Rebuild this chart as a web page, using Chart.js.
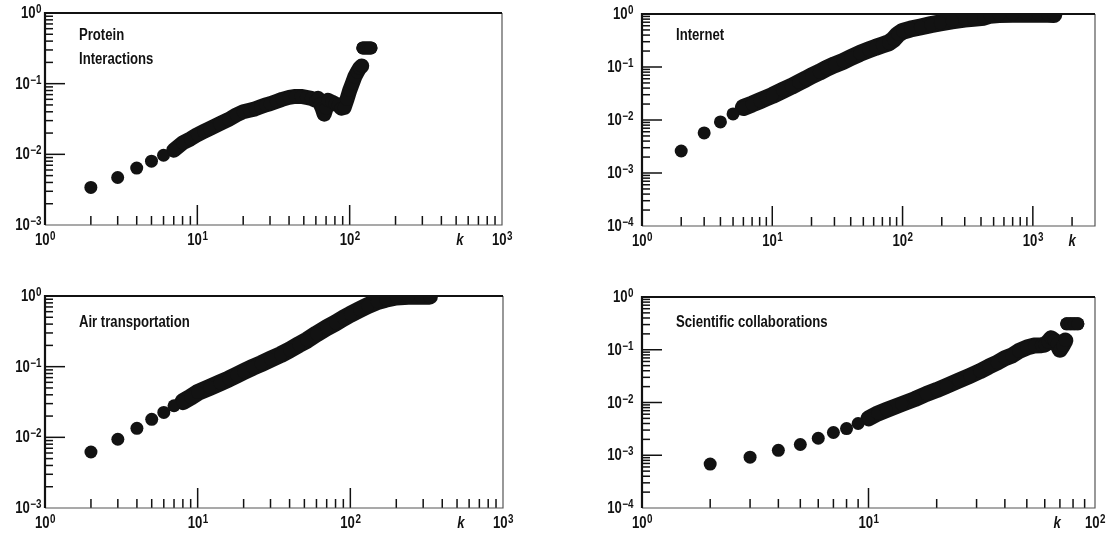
<!DOCTYPE html>
<html>
<head>
<meta charset="utf-8">
<script src="https://cdn.jsdelivr.net/npm/chart.js@4.4.1/dist/chart.umd.min.js"></script>
<style>
  body { margin: 0; background: #fff; }
  #wrap { position: relative; width: 1110px; height: 535px; }
  canvas { position: absolute; }
</style>
</head>
<body>
<div id="wrap">
  <canvas id="protein" width="555" height="268" style="left:0;top:0"></canvas>
  <canvas id="internet" width="555" height="268" style="left:555px;top:0"></canvas>
  <canvas id="air" width="555" height="267" style="left:0;top:268px"></canvas>
  <canvas id="sci" width="555" height="267" style="left:555px;top:268px"></canvas>
</div>
<script>
// degree k against measured value, one pair of arrays per network (sorted by k)
const proteinK = [2, 3, 4, 5, 6, 7, 8, 9, 10, 11, 12, 14, 16, 18, 20, 22, 24, 26, 28, 30, 33, 36, 40, 44, 48, 52, 56,
  60, 62, 64, 66, 68, 70, 72, 76, 80, 84, 88, 92, 96, 100, 104, 108, 112, 116, 120];
const proteinC = [0.0034, 0.0047, 0.0064, 0.008, 0.0097, 0.0114, 0.0145, 0.0165, 0.019, 0.021, 0.023, 0.027, 0.031,
  0.036, 0.040, 0.042, 0.044, 0.047, 0.050, 0.052, 0.056, 0.060, 0.064, 0.066, 0.066, 0.064, 0.062,
  0.058, 0.062, 0.052, 0.045, 0.037, 0.045, 0.058, 0.055, 0.052, 0.050, 0.045, 0.046, 0.060, 0.080, 0.10, 0.125,
  0.145, 0.165, 0.178];
// saturated points at the high-k end
const proteinTopK = [122, 126, 130, 134, 138];
const proteinTopC = [0.32, 0.32, 0.32, 0.32, 0.32];

const internetK = [2, 3, 4, 5, 6, 7, 8, 9, 10, 12, 14, 16, 18, 20, 23, 26, 30, 35, 40, 47, 55, 62, 70, 78, 85, 92, 100,
  115, 137, 165, 195, 240, 300, 350, 420, 470, 550, 700, 900, 1100, 1300, 1450];
const internetC = [0.0026, 0.0057, 0.0092, 0.013, 0.0172, 0.020, 0.023, 0.026, 0.029, 0.036, 0.043, 0.051, 0.059,
  0.068, 0.080, 0.094, 0.11, 0.128, 0.15, 0.18, 0.21, 0.235, 0.26, 0.285, 0.33, 0.41, 0.47,
  0.52, 0.57, 0.63, 0.68, 0.74, 0.80, 0.83, 0.87, 0.95, 0.98, 0.99, 0.99, 0.99, 0.99, 0.98];

const airK = [2, 3, 4, 5, 6, 7, 8, 9, 10, 12, 14, 16, 18, 20, 23, 26, 30, 35, 40, 46, 52, 60, 70, 80, 90, 100, 115,
  130, 150, 170, 200, 240, 290, 330];
const airC = [0.0062, 0.0094, 0.0134, 0.018, 0.0225, 0.028, 0.032, 0.037, 0.043, 0.051, 0.059, 0.067, 0.076, 0.085,
  0.098, 0.11, 0.127, 0.148, 0.172, 0.205, 0.237, 0.29, 0.355, 0.415, 0.485, 0.55, 0.64,
  0.73, 0.83, 0.90, 0.97, 0.99, 0.99, 0.99];

const sciK = [2, 3, 4, 5, 6, 7, 8, 9, 10, 11, 12, 14, 16, 18, 20, 22, 25, 28, 31, 34, 37, 40, 43, 46, 50, 54, 58, 60,
  62, 64, 66, 68, 70, 72, 74];
const sciC = [0.00068, 0.00092, 0.00124, 0.0016, 0.0021, 0.0027, 0.0032, 0.004, 0.005, 0.0062, 0.0072, 0.0093, 0.0116,
  0.0145, 0.0172, 0.0205, 0.026, 0.032, 0.039, 0.048, 0.057, 0.069, 0.078, 0.094, 0.11, 0.12, 0.122, 0.125,
  0.14, 0.165, 0.15, 0.13, 0.10, 0.12, 0.15];
const sciTopK = [75, 78, 81, 84];
const sciTopC = [0.31, 0.31, 0.31, 0.31];

const MINOR = [2, 3, 4, 5, 6, 7, 8, 9];
const FONT = "'Liberation Sans', Arial, sans-serif";
const SX = 0.82; // narrow the bold face
const INK = '#121212';

function text(ctx, str, x, y, align) {
  const w = ctx.measureText(str).width * SX;
  const x0 = align === 'right' ? x - w : align === 'center' ? x - w / 2 : x;
  ctx.save();
  ctx.translate(x0, y);
  ctx.scale(SX, 1);
  ctx.textAlign = 'left';
  ctx.fillText(str, 0, 0);
  ctx.restore();
  return w;
}

// "10" with a raised exponent
function powLabel(ctx, exp, x, y, align) {
  const sup = exp < 0 ? '\u2212' + (-exp) : String(exp);
  ctx.font = 'bold 16px ' + FONT;
  const wb = ctx.measureText('10').width * SX;
  ctx.font = 'bold 12px ' + FONT;
  const ws = ctx.measureText(sup).width * SX;
  const x0 = align === 'right' ? x - wb - ws : x - (wb + ws) / 2;
  ctx.textBaseline = 'alphabetic';
  ctx.font = 'bold 16px ' + FONT;
  text(ctx, '10', x0, y, 'left');
  ctx.font = 'bold 12px ' + FONT;
  text(ctx, sup, x0 + wb + 0.5, y - 5, 'left');
}

// frame, inward log ticks, decade labels and the panel caption
const logFrame = {
  id: 'logFrame',
  afterDatasetsDraw(chart, args, opts) {
    const {ctx, chartArea: a, scales: {x, y}} = chart;
    ctx.save();
    ctx.fillStyle = '#111';
    ctx.strokeStyle = '#111';

    ctx.lineWidth = 1.5;
    const xe0 = Math.round(Math.log10(x.min)), xe1 = Math.floor(Math.log10(x.max) + 1e-9);
    for (let e = xe0; e <= xe1 + 1; e++) {
      const d = Math.pow(10, e);
      if (d > x.min && d < x.max) {
        const px = x.getPixelForValue(d);
        ctx.beginPath(); ctx.moveTo(px, a.bottom); ctx.lineTo(px, a.bottom - 20); ctx.stroke();
      }
      MINOR.forEach(m => {
        const v = m * d;
        if (v > x.min && v < x.max) {
          const px = x.getPixelForValue(v);
          ctx.beginPath(); ctx.moveTo(px, a.bottom); ctx.lineTo(px, a.bottom - 9); ctx.stroke();
        }
      });
    }
    const ye0 = Math.round(Math.log10(y.min)), ye1 = Math.round(Math.log10(y.max));
    for (let e = ye0; e <= ye1; e++) {
      const d = Math.pow(10, e);
      if (d > y.min && d < y.max) {
        const py = y.getPixelForValue(d);
        ctx.beginPath(); ctx.moveTo(a.left, py); ctx.lineTo(a.left + 20, py); ctx.stroke();
      }
      MINOR.forEach(m => {
        const v = m * d;
        if (v > y.min && v < y.max) {
          const py = y.getPixelForValue(v);
          ctx.beginPath(); ctx.moveTo(a.left, py); ctx.lineTo(a.left + 8, py); ctx.stroke();
        }
      });
    }

    // box
    ctx.lineWidth = 1.2;
    ctx.strokeStyle = '#555';
    ctx.beginPath();
    ctx.moveTo(a.right, a.top); ctx.lineTo(a.right, a.bottom); ctx.lineTo(a.left, a.bottom);
    ctx.stroke();
    ctx.lineWidth = 2.2;
    ctx.strokeStyle = '#111';
    ctx.beginPath();
    ctx.moveTo(a.left, a.bottom); ctx.lineTo(a.left, a.top); ctx.lineTo(a.right, a.top);
    ctx.stroke();

    // decade labels
    for (let e = xe0; e <= xe1; e++) {
      powLabel(ctx, e, x.getPixelForValue(Math.pow(10, e)), a.bottom + 20, 'center');
    }
    for (let e = ye0; e <= ye1; e++) {
      powLabel(ctx, e, a.left - opts.yGap, y.getPixelForValue(Math.pow(10, e)) + 5, 'right');
    }
    ctx.font = 'italic bold 16px ' + FONT;
    text(ctx, 'k', x.getPixelForValue(opts.kAt), a.bottom + 20, 'center');

    ctx.font = 'bold 16px ' + FONT;
    ctx.textBaseline = 'middle';
    opts.caption.forEach((line, i) => {
      text(ctx, line, a.left + 34, a.top + opts.captionTop + i * 24, 'left');
    });
    ctx.restore();
  }
};

// dots, with a thick stroke through the dense part of the run
function series(ks, vals, bandFrom, bandWidth) {
  const gap = c => c.p0.parsed.x < bandFrom;
  return {
    data: ks.map((k, i) => ({x: k, y: vals[i]})),
    backgroundColor: INK,
    borderColor: INK,
    borderWidth: bandWidth,
    pointBorderWidth: 0,
    pointRadius: 6.5,
    pointHoverRadius: 6.5,
    showLine: true,
    borderCapStyle: 'round',
    borderJoinStyle: 'round',
    segment: {
      borderColor: c => gap(c) ? 'rgba(0,0,0,0)' : INK
    },
    clip: 0
  };
}

function makePanel(id, sets, xMax, yMin, pad, yGap, kAt, caption, captionTop) {
  new Chart(document.getElementById(id), {
    type: 'scatter',
    data: {datasets: sets},
    options: {
      responsive: false,
      animation: false,
      events: [],
      layout: {padding: pad},
      scales: {
        x: {type: 'logarithmic', min: 1, max: xMax, display: false},
        y: {type: 'logarithmic', min: yMin, max: 1, display: false}
      },
      plugins: {
        legend: {display: false},
        tooltip: {enabled: false},
        logFrame: {yGap, kAt, caption, captionTop}
      }
    },
    plugins: [logFrame]
  });
}

makePanel('protein', [series(proteinK, proteinC, 7, 15), series(proteinTopK, proteinTopC, 0, 13)], 1000, 0.001,
  {left: 45, top: 13, right: 53, bottom: 43}, 4, 530, ['Protein', 'Interactions'], 23);
makePanel('internet', [series(internetK, internetC, 6, 17)], 3000, 0.0001,
  {left: 87, top: 14, right: 15, bottom: 42}, 9, 2000, ['Internet'], 22);
makePanel('air', [series(airK, airC, 8, 17)], 1000, 0.001,
  {left: 45, top: 28, right: 52, bottom: 27}, 4, 530, ['Air transportation'], 27);
makePanel('sci', [series(sciK, sciC, 10, 16), series(sciTopK, sciTopC, 0, 13)], 100, 0.0001,
  {left: 87, top: 29, right: 15, bottom: 27}, 9, 68, ['Scientific collaborations'], 26);
</script>
</body>
</html>
